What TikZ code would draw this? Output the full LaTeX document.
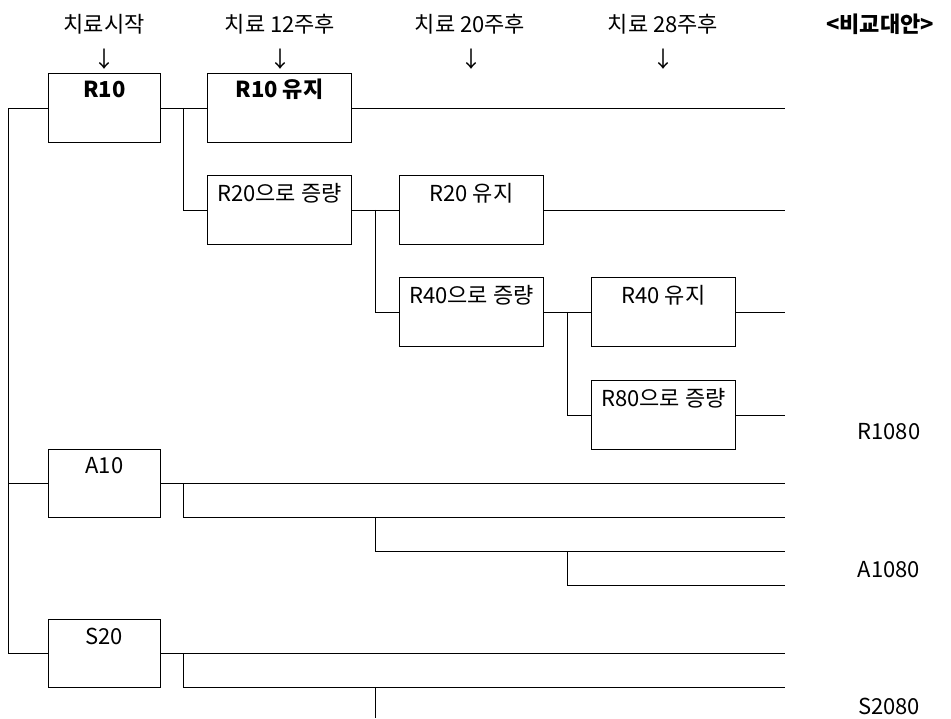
\documentclass[tikz,border=0pt]{standalone}
\usepackage{fontspec}
\setmainfont{Noto Sans CJK KR}
\begin{document}
\begin{tikzpicture}[x=1pt,y=-1pt,
  box/.style={draw,line width=0.8pt,inner sep=0pt,minimum width=#1,minimum height=69pt,anchor=north west},
  box/.default=112pt,
  lbl/.style={font=\fontsize{22}{26}\selectfont,inner sep=0pt},
  blbl/.style={font=\fontsize{22}{26}\selectfont\bfseries,inner sep=0pt},
  hdr/.style={font=\fontsize{22}{26}\selectfont,inner sep=0pt},
  conn/.style={line width=0.8pt}]
\useasboundingbox (0,0) rectangle (951,718);
% headers
\node[hdr] (h1) at (104,24) {치료시작};
\node[hdr] (h2) at (280,24) {치료 12주후};
\node[hdr] (h3) at (470,24) {치료 20주후};
\node[hdr] (h4) at (663,24) {치료 28주후};
\node[blbl] (h5) at (880,24) {<비교대안>};
\node[hdr] (d1) at (104,59) {↓};
\node[hdr] (d2) at (280,59) {↓};
\node[hdr] (d3) at (471,59) {↓};
\node[hdr] (d4) at (663,59) {↓};
% boxes
\node[box=112pt] (R10) at (48,73) {};
\node[blbl] (tR10) at ([yshift=-16pt]R10.north) {R10};
\node[box=144pt] (R10k) at (207,73) {};
\node[blbl] (tR10k) at ([yshift=-16pt]R10k.north) {R10 유지};
\node[box=144pt] (R20i) at (207,175) {};
\node[lbl] (tR20i) at ([yshift=-18pt]R20i.north) {R20으로 증량};
\node[box=144pt] (R20k) at (399,175) {};
\node[lbl] (tR20k) at ([yshift=-18pt]R20k.north) {R20 유지};
\node[box=144pt] (R40i) at (399,277) {};
\node[lbl] (tR40i) at ([yshift=-18pt]R40i.north) {R40으로 증량};
\node[box=144pt] (R40k) at (591,277) {};
\node[lbl] (tR40k) at ([yshift=-18pt]R40k.north) {R40 유지};
\node[box=144pt] (R80) at (591,380) {};
\node[lbl] (tR80) at ([yshift=-18pt]R80.north) {R80으로 증량};
\node[box=112pt,minimum height=68pt] (A10) at (48,449) {};
\node[lbl] (tA10) at ([yshift=-17pt]A10.north) {A10};
\node[box=112pt,minimum height=68pt] (S20) at (48,619) {};
\node[lbl] (tS20) at ([yshift=-17pt]S20.north) {S20};
% right labels
\node[lbl] (rR) at (889,432) {R1080};
\node[lbl] (rA) at (889,570) {A1080};
\node[lbl] (rS) at (889,706) {S2080};
% helper coordinates
\coordinate (tx) at (8,0);
\coordinate (b1) at (183,0);
\coordinate (b2) at (375,0);
\coordinate (b3) at (567,0);
\coordinate (ex) at (785,0);
\coordinate (A2) at (785,517);
\coordinate (A3) at (785,551);
\coordinate (A4) at (785,585);
\coordinate (S2) at (785,687);
\coordinate (Send) at (375,718);
% trunk
\draw[conn] (R10.west) -- (R10.west -| tx) -- (S20.west -| tx) -- (S20.west);
\draw[conn] (A10.west) -- (A10.west -| tx);
% R branch
\draw[conn] (R10.east) -- (R10k.west);
\draw[conn] (R10.east -| b1) |- (R20i.west);
\draw[conn] (R10k.east) -- (R10k.east -| ex);
\draw[conn] (R20i.east) -- (R20k.west);
\draw[conn] (R20i.east -| b2) |- (R40i.west);
\draw[conn] (R20k.east) -- (R20k.east -| ex);
\draw[conn] (R40i.east) -- (R40k.west);
\draw[conn] (R40i.east -| b3) |- (R80.west);
\draw[conn] (R40k.east) -- (R40k.east -| ex);
\draw[conn] (R80.east) -- (R80.east -| ex);
% A branch
\draw[conn] (A10.east) -- (A10.east -| ex);
\draw[conn] (A10.east -| b1) |- (A2);
\draw[conn] (A2 -| b2) |- (A3);
\draw[conn] (A3 -| b3) |- (A4);
% S branch
\draw[conn] (S20.east) -- (S20.east -| ex);
\draw[conn] (S20.east -| b1) |- (S2);
\draw[conn] (S2 -| b2) -- (Send);
\end{tikzpicture}
\end{document}
